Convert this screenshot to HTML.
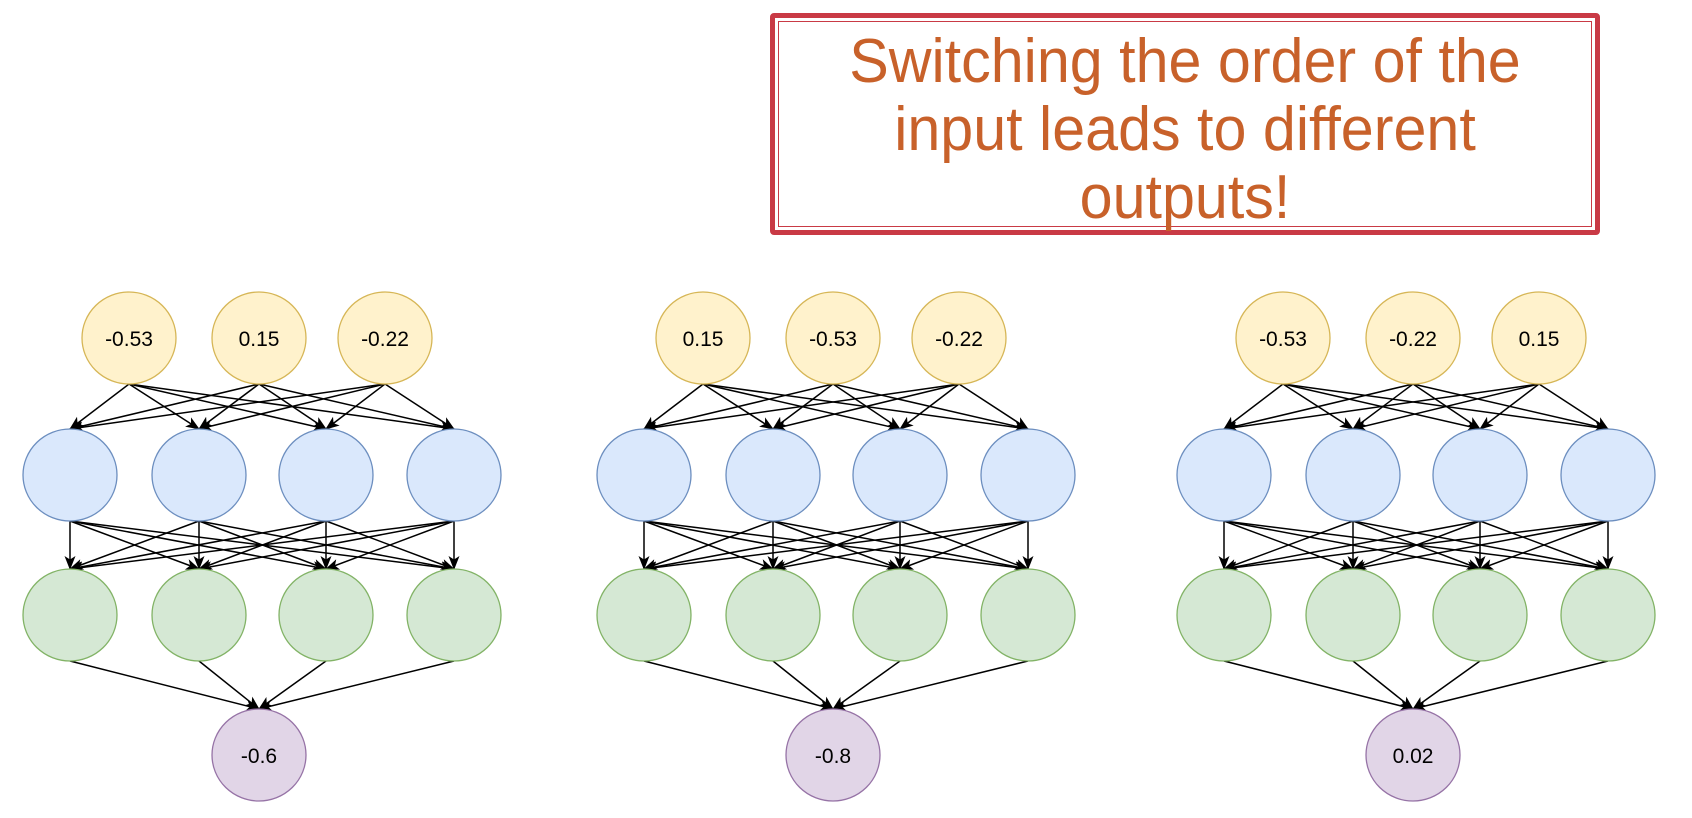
<!DOCTYPE html>
<html><head><meta charset="utf-8"><style>
html,body{margin:0;padding:0;background:#fff;width:1692px;height:818px;overflow:hidden}
.box{position:absolute;left:770px;top:13px;width:820px;height:212px;border:5px solid #c93a45;border-radius:4px}
.box .in{position:absolute;left:3px;top:3px;right:3px;bottom:3px;border:1.5px solid #c93a45}
.txt{position:absolute;left:-100px;right:-100px;top:10px;text-align:center;font-family:"Liberation Sans",sans-serif;font-size:62px;line-height:68px;color:#c8612a;transform:scaleX(0.955)}
svg{position:absolute;left:0;top:0}
</style></head><body>
<div class="box"><div class="in"></div><div class="txt">Switching the order of the<br>input leads to different<br>outputs!</div></div>
<svg width="1692" height="818" id="s"></svg>
<script>
const s=document.getElementById('s');let h='<defs><marker id="a" markerWidth="14" markerHeight="14" refX="13" refY="7" orient="auto" markerUnits="userSpaceOnUse"><path d="M0,1.5 L14,7 L0,12.5 L3.5,7z" fill="#000"/></marker></defs>';
const panels=[[0,["-0.53","0.15","-0.22"],"-0.6"],[574,["0.15","-0.53","-0.22"],"-0.8"],[1154,["-0.53","-0.22","0.15"],"0.02"]];
const R=46;
for(const [o,ins,out] of panels){
 const ix=[129,259,385].map(v=>v+o), hx=[70,199,326,454].map(v=>v+o), ox=259+o;
 const iy=338,h1=475,h2=615,oy=755;
 for(const a of ix)for(const b of hx)h+=`<line x1="${a}" y1="${iy+R}" x2="${b}" y2="${h1-R}" stroke="#000" stroke-width="1.5" marker-end="url(#a)"/>`;
 for(const a of hx)for(const b of hx)h+=`<line x1="${a}" y1="${h1+R}" x2="${b}" y2="${h2-R}" stroke="#000" stroke-width="1.5" marker-end="url(#a)"/>`;
 for(const a of hx)h+=`<line x1="${a}" y1="${h2+R}" x2="${ox}" y2="${oy-R}" stroke="#000" stroke-width="1.5" marker-end="url(#a)"/>`;
 ins.forEach((t,i)=>{h+=`<ellipse cx="${ix[i]}" cy="${iy}" rx="47" ry="${R}" fill="#fff2cc" stroke="#d6b656" stroke-width="1.3"/><text x="${ix[i]}" y="${iy+8}" text-anchor="middle" font-family="Liberation Sans,sans-serif" font-size="21">${t}</text>`});
 hx.forEach(x=>{h+=`<ellipse cx="${x}" cy="${h1}" rx="47" ry="${R}" fill="#dae8fc" stroke="#6c8ebf" stroke-width="1.3"/><ellipse cx="${x}" cy="${h2}" rx="47" ry="${R}" fill="#d5e8d4" stroke="#82b366" stroke-width="1.3"/>`});
 h+=`<ellipse cx="${ox}" cy="${oy}" rx="47" ry="${R}" fill="#e1d5e7" stroke="#9673a6" stroke-width="1.3"/><text x="${ox}" y="${oy+8}" text-anchor="middle" font-family="Liberation Sans,sans-serif" font-size="21">${out}</text>`;
}
s.innerHTML=h;
</script>
</body></html>
